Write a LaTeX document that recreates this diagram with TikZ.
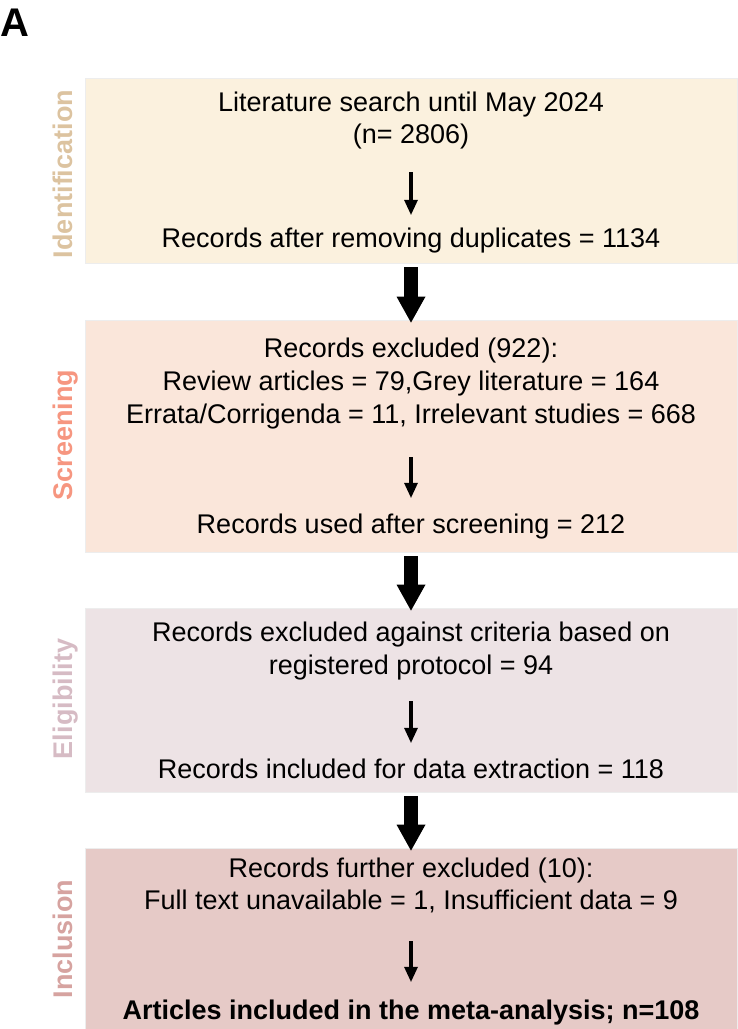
\documentclass[tikz,border=0pt]{standalone}
\usepackage{fontspec}
\setmainfont{Liberation Sans}
\usetikzlibrary{arrows.meta}

\definecolor{idfill}{HTML}{FBF1DE}
\definecolor{idtext}{HTML}{DCC3A0}
\definecolor{scfill}{HTML}{FAE6DA}
\definecolor{sctext}{HTML}{F69680}
\definecolor{elfill}{HTML}{EDE3E5}
\definecolor{eltext}{HTML}{D6BBC4}
\definecolor{infill}{HTML}{E6CAC7}
\definecolor{intext}{HTML}{D6A3A0}

\begin{document}
\begin{tikzpicture}[x=1pt, y=-1pt,
  box/.style={draw=black!7, line width=0.8pt, rectangle, minimum width=652pt, inner sep=0pt},
  txt/.style={inner sep=0pt, anchor=base, text height=19pt, text depth=6pt, font=\fontsize{27}{32}\selectfont},
  side/.style={inner sep=0pt, anchor=base, rotate=90, font=\fontsize{27}{32}\selectfont\bfseries},
  bigarrow/.style={line width=14pt, -{Triangle[length=26pt, width=29pt, line width=0pt]}, shorten <=4pt, shorten >=-3pt},
  smallarrow/.style={line width=3.5pt, -{Triangle[length=15pt, width=14pt, line width=0pt]}}]
\useasboundingbox (0,0) rectangle (737,1029);

\node[inner sep=0pt, anchor=base west, font=\fontsize{40}{44}\selectfont\bfseries] (panel) at (0,36) {A};

\node[box, fill=idfill, minimum height=185pt] (idbox) at (411,170.5) {};
\node[box, fill=scfill, minimum height=232pt] (scbox) at (411,436) {};
\node[box, fill=elfill, minimum height=184pt] (elbox) at (411,700) {};
\node[box, fill=infill, minimum height=182pt] (inbox) at (411,939) {};

\node[side, text=idtext] (idlabel) at (72,174) {Identification};
\node[side, text=sctext] (sclabel) at (72,435) {Screening};
\node[side, text=eltext] (ellabel) at (72,699) {Eligibility};
\node[side, text=intext] (inlabel) at (72,939) {Inclusion};

\node[txt] (id1) at (411,111) {Literature search until May 2024};
\node[txt] (id2) at (411,143) {(n= 2806)};
\node[txt] (id3) at (411,247) {Records after removing duplicates = 1134};

\node[txt] (sc1) at (411,357) {Records excluded (922):};
\node[txt] (sc2) at (411,390) {Review articles = 79,Grey literature = 164};
\node[txt] (sc3) at (411,423) {Errata/Corrigenda = 11, Irrelevant studies = 668};
\node[txt] (sc4) at (411,533) {Records used after screening = 212};

\node[txt] (el1) at (411,641) {Records excluded against criteria based on};
\node[txt] (el2) at (411,674) {registered protocol = 94};
\node[txt] (el3) at (411,778) {Records included for data extraction = 118};

\node[txt] (in1) at (411,877) {Records further excluded (10):};
\node[txt] (in2) at (411,909) {Full text unavailable = 1, Insufficient data = 9};
\node[txt, font=\fontsize{27}{32}\selectfont\bfseries] (in3) at (411,1019) {Articles included in the meta-analysis; n=108};

\draw[smallarrow, shorten <=23pt, shorten >=13pt] (id2) -- (id3);
\draw[smallarrow, shorten <=28pt, shorten >=16pt] (sc3) -- (sc4);
\draw[smallarrow, shorten <=21pt, shorten >=16pt] (el2) -- (el3);
\draw[smallarrow, shorten <=26pt, shorten >=18pt] (in2) -- (in3);

\draw[bigarrow] (idbox) -- (scbox);
\draw[bigarrow] (scbox) -- (elbox);
\draw[bigarrow] (elbox) -- (inbox);

\end{tikzpicture}
\end{document}
